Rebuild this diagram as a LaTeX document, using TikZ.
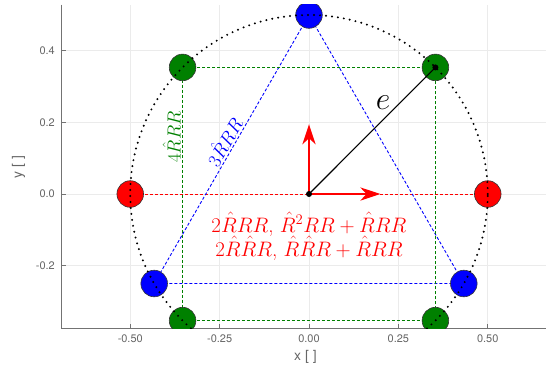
\RequirePackage{fix-cm}
\documentclass[tikz,border=0pt]{standalone}
\usepackage{fontspec}
\setsansfont{TeX Gyre Heros}
\usetikzlibrary{arrows.meta}
\definecolor{mgreen}{RGB}{0,128,0}
\definecolor{mblue}{RGB}{0,0,255}
\definecolor{mred}{RGB}{255,0,0}
\tikzset{
 gridline/.style={draw=black!8, line width=0.8bp},
 axisline/.style={draw=black!55, line width=1.3bp},
 tickmark/.style={draw=black!55, line width=1bp},
 ticklbl/.style={font=\sffamily\fontsize{11}{12}\selectfont, text=black!60, inner sep=0pt},
 axlbl/.style={font=\sffamily\fontsize{14}{16}\selectfont, text=black!60, inner sep=0pt},
 marker/.style={circle, draw=black!80, line width=0.6bp, minimum size=26.6bp, inner sep=0pt},
 dline/.style={dash pattern=on 3bp off 2bp, line width=0.9bp},
 dotcircle/.style={draw=black, line width=2.2bp, line cap=round, dash pattern=on 0bp off 6bp},
 redarrow/.style={draw=mred, line width=2.8bp, -{Stealth[length=20bp,width=13bp,inset=6bp]}},
}
\begin{document}
\begin{tikzpicture}[x=357.5bp,y=358bp]
\useasboundingbox (-0.8643,-0.4860) rectangle (0.6629,0.5419);
% grid
\foreach \x in {-0.5,-0.25,0,0.25,0.5} \draw[gridline] (\x,-0.375) -- (\x,0.529);
\foreach \y in {-0.2,0,0.2,0.4} \draw[gridline] (-0.6917,\y) -- (0.6629,\y);
% axes
\coordinate (tl) at (-0.6917,0.529);
\coordinate (bl) at (-0.6917,-0.375);
\coordinate (br) at (0.6629,-0.375);
\draw[axisline] (tl) -- (bl) -- (br);
\foreach \x/\t [count=\i] in {-0.5/-0.50,-0.25/-0.25,0/0.00,0.25/0.25,0.5/0.50}{
  \draw[tickmark] (\x,-0.375) -- ++(0,4bp);
  \node[ticklbl] (xt\i) at (\x,-0.405) {\t};
}
\foreach \y/\t [count=\i] in {-0.2/-0.2,0/0.0,0.2/0.2,0.4/0.4}{
  \draw[tickmark] (-0.6917,\y) -- ++(4bp,0);
  \node[ticklbl, anchor=east] (yt\i) at (-0.7105,\y) {\t};
}
\node[axlbl] (xlab) at (-0.01,-0.455) {x [ ]};
\node[axlbl, rotate=90] (ylab) at (-0.8125,0.075) {y [ ]};
% points
\coordinate (o) at (0,0);
\coordinate (r1) at (-0.5,0);
\coordinate (r2) at (0.5,0);
\coordinate (b1) at (0,0.5);
\coordinate (b2) at (-0.4330,-0.25);
\coordinate (b3) at (0.4330,-0.25);
\coordinate (g1) at (0.3536,0.3536);
\coordinate (g2) at (-0.3536,0.3536);
\coordinate (g3) at (-0.3536,-0.3536);
\coordinate (g4) at (0.3536,-0.3536);
\coordinate (ax) at (0.2,0);
\coordinate (ay) at (0,0.195);
\begin{scope}
\clip (-0.6917,-0.375) rectangle (0.6629,0.529);
% dashed connectors
\draw[dline, draw=mred] (r1) -- (r2);
\draw[dline, draw=mblue] (b1) -- (b2) -- (b3) -- cycle;
\draw[dline, draw=mgreen] (g1) -- (g2) -- (g3) -- (g4) -- cycle;
% markers
\node[marker, fill=mred] (mr1) at (r1) {};
\node[marker, fill=mred] (mr2) at (r2) {};
\node[marker, fill=mblue] (mb1) at (b1) {};
\node[marker, fill=mblue] (mb2) at (b2) {};
\node[marker, fill=mblue] (mb3) at (b3) {};
\node[marker, fill=mgreen] (mg1) at (g1) {};
\node[marker, fill=mgreen] (mg2) at (g2) {};
\node[marker, fill=mgreen] (mg3) at (g3) {};
\node[marker, fill=mgreen] (mg4) at (g4) {};
% dotted circle
\draw[dotcircle] (o) circle [x radius=0.5, y radius=0.5];
\end{scope}
% arrows
\draw[redarrow] (o) -- (ax);
\draw[redarrow] (o) -- (ay);
% vector e
\draw[black, line width=1.1bp] (o) -- (mg1.center);
\fill[black] (o) circle (3bp);
\fill[black] (mg1.center) circle (3bp);
% labels
\node[font=\fontsize{32}{36}\selectfont] (elab) at (0.207,0.254) {$e$};
\node[text=mblue, rotate=60, font=\fontsize{19}{22}\selectfont] (blab) at (-0.240,0.147) {$3\hat{R}RR$};
\node[text=mgreen, rotate=90, font=\fontsize{19}{22}\selectfont] (glab) at (-0.384,0.159) {$4\hat{R}RR$};
\node[text=mred, align=center, font=\fontsize{21}{24}\selectfont] (rlab) at (0,-0.118)
  {$2\hat{R}RR$, $\hat{R}^2RR+\hat{R}RR$\\$2\hat{R}\hat{R}R$, $\hat{R}\hat{R}R+\hat{R}RR$};
\end{tikzpicture}
\end{document}
